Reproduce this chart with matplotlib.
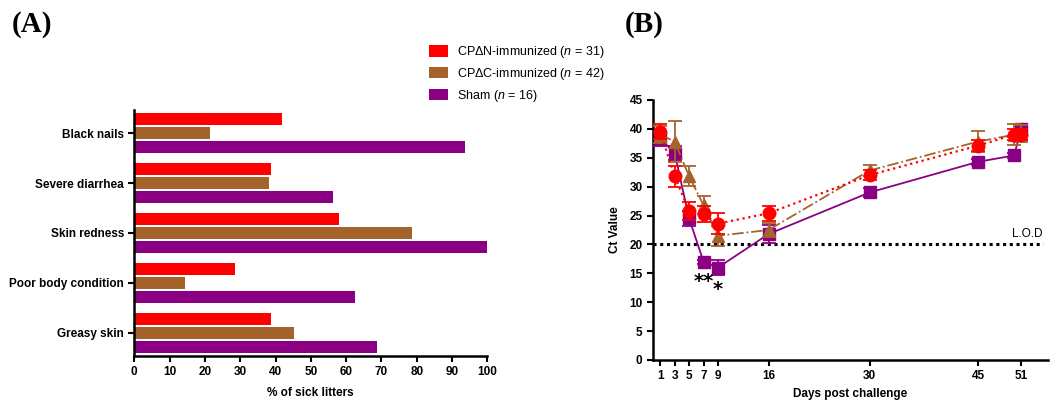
import numpy as np
import matplotlib
matplotlib.use('Agg')
import matplotlib.pyplot as plt

plt.rcParams['font.family'] = ['Liberation Sans', 'DejaVu Sans']
plt.rcParams['mathtext.fontset'] = 'custom'
plt.rcParams['mathtext.it'] = 'Liberation Sans:italic'
plt.rcParams['mathtext.rm'] = 'Liberation Sans'

# Panel A data (% of sick litters)
symptoms = ['Black nails', 'Severe diarrhea', 'Skin redness', 'Poor body condition', 'Greasy skin']
pct_dN = [41.9, 38.7, 58.1, 28.6, 38.7]
pct_dC = [21.4, 38.1, 78.6, 14.3, 45.2]
pct_sham = [93.8, 56.3, 100.0, 62.5, 68.8]

# Panel B data (Ct values)
days = [1, 3, 5, 7, 9, 16, 30, 45, 50, 51]
ct_dN = [39.5, 31.8, 25.8, 25.2, 23.6, 25.4, 32.0, 37.1, 39.0, 39.0]
err_dN = [1.3, 1.8, 1.6, 1.4, 1.8, 1.3, 0.8, 1.0, 1.0, 1.0]
ct_dC = [39.0, 37.8, 31.8, 26.8, 21.5, 22.5, 32.8, 37.8, 39.0, 39.2]
err_dC = [1.5, 3.5, 1.7, 1.5, 1.7, 1.2, 1.0, 1.8, 1.8, 1.5]
ct_sham = [38.3, 35.8, 24.5, 17.0, 16.0, 21.8, 29.0, 34.3, 35.4, 40.0]
err_sham = [1.2, 1.2, 1.3, 0.3, 1.3, 1.5, 0.8, 0.5, 0.5, 0.5]
day_ticks = [1, 3, 5, 7, 9, 16, 30, 45, 51]

labels = [r'CPΔN-immunized ($\mathit{n}$ = 31)',
          r'CPΔC-immunized ($\mathit{n}$ = 42)',
          r'Sham ($\mathit{n}$ = 16)']
red = '#FF0000'
brown = '#A5632C'
purple = '#8B0083'

W, H = 1062, 403
fig = plt.figure(figsize=(W / 100, H / 100), dpi=100)

def px_axes(x0, x1, ytop, ybot):
    return fig.add_axes([x0 / W, (H - ybot) / H, (x1 - x0) / W, (ybot - ytop) / H])

# ---------- Panel A ----------
axA = px_axes(134.3, 487.3, 110, 356)
step = 50 / 14
centers = -np.arange(len(symptoms)) * step
bars = []
for off, vals, col in [(1, pct_dN, red), (0, pct_dC, brown), (-1, pct_sham, purple)]:
    bars.append(axA.barh(centers + off, vals, height=0.82, color=col))
axA.set_yticks(centers)
axA.set_yticklabels(symptoms, fontweight='bold', fontsize=8.5)
axA.set_ylim(centers[-1] - 1 - 0.643, 1.643)
axA.set_xlim(0, 100)
axA.set_xticks(np.arange(0, 101, 10))
axA.set_xlabel('% of sick litters', fontweight='bold', fontsize=8.5, labelpad=6)
for lab in axA.get_xticklabels():
    lab.set_fontweight('bold')
axA.tick_params(axis='both', width=1.5, length=4, labelsize=8.5)
for s in ['top', 'right']:
    axA.spines[s].set_visible(False)
for s in ['left', 'bottom']:
    axA.spines[s].set_linewidth(1.8)

fig.legend(bars, labels, loc='upper left', bbox_to_anchor=(418 / W, 1 - 33 / H),
           frameon=False, fontsize=9, handlelength=1.5, handleheight=1.0,
           labelspacing=0.45, handletextpad=0.7)

# ---------- Panel B ----------
axB = px_axes(653, 1048, 100, 360)
axB.axhline(20, xmin=0, xmax=54 / 54.7, color='black', linestyle=(0, (1.0, 1.2)),
            linewidth=2.2, zorder=1)
axB.text(54, 20.8, 'L.O.D', ha='right', va='bottom', fontsize=8.5)
axB.errorbar(days, ct_sham, yerr=err_sham, color=purple, marker='s', markersize=8.5,
             linestyle='-', linewidth=1.3, capsize=5, capthick=1.3, elinewidth=1.3, zorder=3)
axB.errorbar(days, ct_dC, yerr=err_dC, color=brown, marker='^', markersize=8,
             linestyle='-.', linewidth=1.3, capsize=5, capthick=1.3, elinewidth=1.3, zorder=4)
axB.errorbar(days, ct_dN, yerr=err_dN, color=red, marker='o', markersize=9,
             linestyle=':', linewidth=1.6, capsize=5, capthick=1.3, elinewidth=1.3, zorder=5)
axB.text(7, 15.3, '**', ha='center', va='top', fontsize=14, fontweight='bold',
         family='DejaVu Sans')
axB.text(9, 13.9, '*', ha='center', va='top', fontsize=14, fontweight='bold',
         family='DejaVu Sans')
axB.set_xlim(0, 54.7)
axB.set_ylim(0, 45)
axB.set_xticks(day_ticks)
axB.set_yticks(np.arange(0, 46, 5))
axB.set_xlabel('Days post challenge', fontweight='bold', fontsize=8.5, labelpad=4)
axB.set_ylabel('Ct Value', fontweight='bold', fontsize=8.5, labelpad=6)
for lab in axB.get_xticklabels() + axB.get_yticklabels():
    lab.set_fontweight('bold')
axB.tick_params(axis='both', width=1.5, length=4, labelsize=8.5)
for s in ['top', 'right']:
    axB.spines[s].set_visible(False)
for s in ['left', 'bottom']:
    axB.spines[s].set_linewidth(1.8)

# panel labels
fig.text(12 / W, 1 - 25 / H, '(A)', family='Liberation Serif', fontweight='bold',
         fontsize=21, va='center', ha='left')
fig.text(625 / W, 1 - 25 / H, '(B)', family='Liberation Serif', fontweight='bold',
         fontsize=21, va='center', ha='left')

fig.savefig('out.png', dpi=100)
